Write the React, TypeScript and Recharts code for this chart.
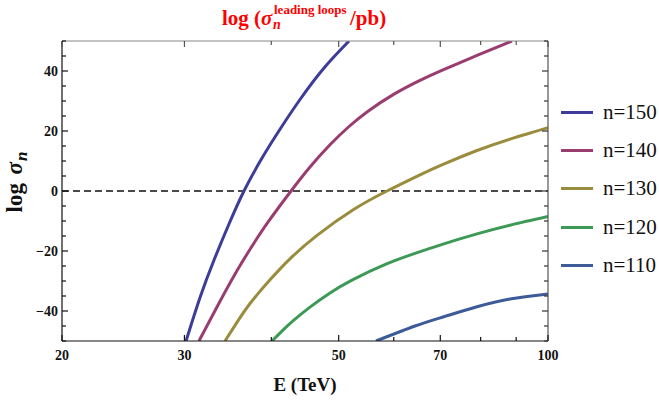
import React from "react";
import { LineChart, Line, XAxis, YAxis, ReferenceLine, Legend } from "recharts";

// tick values
const xTicks = [20, 30, 40, 50, 60, 70, 80, 90, 100];
const xLabelled = [20, 30, 50, 70, 100];
const yTicks = [-50, -45, -40, -35, -30, -25, -20, -15, -10, -5, 0, 5, 10, 15, 20, 25, 30, 35, 40, 45, 50];
const yLabelled = [-40, -20, 0, 20, 40];

// curves: E (TeV) and log sigma_n
const e150 = [30.16, 31.59, 33.09, 34.77, 36.54, 38.79, 41.17, 43.99, 47.63, 51.74];
const s150 = [-50, -35.5, -23, -11, 0, 11, 20.6, 30.5, 41, 50];

const e140 = [31.48, 33.53, 35.7, 37.52, 39.56, 42.7, 45.47, 48.58, 51.74, 55.1, 60.05, 65.45, 70.63, 79.05, 88.76];
const s140 = [-50, -38, -26.6, -18.4, -10.4, 0, 8, 15.4, 21.5, 26.6, 32.3, 36.9, 40.4, 45.2, 50];

const e130 = [34.31, 35.7, 37.28, 39.83, 42.55, 46.54, 52.6, 58.67, 65.45, 70.63, 79.05, 88.18, 100];
const s130 = [-50, -43.8, -37.5, -29.6, -22.6, -14.8, -6.1, 0, 5.4, 8.9, 13.5, 17.3, 21.1];

const e120 = [40.09, 41.86, 43.27, 45.47, 48.58, 52.25, 58.48, 64.37, 70.63, 79.05, 88.18, 100];
const s120 = [-50, -45.7, -42.7, -38.7, -34, -29.7, -24.4, -20.8, -17.7, -14.3, -11.4, -8.5];

const e110 = [56.58, 64.37, 70.63, 79.05, 88.18, 100];
const s110 = [-50, -45, -42, -38.6, -36, -34.3];

const names = ["n=150", "n=140", "n=130", "n=120", "n=110"];
const colors = ["#3d3d99", "#993d71", "#998c3d", "#3d9956", "#3d5a99"];
const energies = [e150, e140, e130, e120, e110];
const sigmas = [s150, s140, s130, s120, s110];

const series = names.map((name, i) => ({
  name,
  color: colors[i],
  data: energies[i].map((E, j) => ({ E, v: sigmas[i][j] })),
}));

const FONT = '"Liberation Serif", "Times New Roman", serif';
const AXIS = "#111";

const fmt = (v: number) => (v < 0 ? "\u2212" + Math.abs(v) : String(v));

// tick components: inward tick mark (major longer) plus label on left/bottom
const BottomTick = (props: any) => {
  const { x, y, payload } = props;
  const major = xLabelled.includes(payload.value);
  const y0 = y - 8;
  return (
    <g>
      <line x1={x} x2={x} y1={y0} y2={y0 - (major ? 6 : 4)} stroke={AXIS} strokeWidth={1.2} />
      {major && (
        <text x={x} y={y0 + 19} textAnchor="middle" fontFamily={FONT} fontWeight="bold" fontSize={14} fill="#111">
          {payload.value}
        </text>
      )}
    </g>
  );
};

const TopTick = (props: any) => {
  const { x, y, payload } = props;
  const major = xLabelled.includes(payload.value);
  return <line x1={x} x2={x} y1={y} y2={y + (major ? 6 : 4)} stroke="#555" strokeWidth={1.2} />;
};

const LeftTick = (props: any) => {
  const { x, y, payload } = props;
  const major = yLabelled.includes(payload.value);
  const x0 = x + 4;
  return (
    <g>
      <line x1={x0} x2={x0 + (major ? 6 : 4)} y1={y} y2={y} stroke={AXIS} strokeWidth={1.2} />
      {major && (
        <text x={x} y={y + 5} textAnchor="end" fontFamily={FONT} fontWeight="bold" fontSize={14} fill="#111">
          {fmt(payload.value)}
        </text>
      )}
    </g>
  );
};

const RightTick = (props: any) => {
  const { x, y, payload } = props;
  const major = yLabelled.includes(payload.value);
  return <line x1={x} x2={x - (major ? 6 : 4)} y1={y} y2={y} stroke="#333" strokeWidth={1.2} />;
};

const LegendBox = () => (
  <div style={{ fontFamily: FONT, fontSize: 21, color: "#111" }}>
    {series.map((s) => (
      <div key={s.name} style={{ height: 38.4, display: "flex", alignItems: "center" }}>
        <div style={{ width: 32, height: 3, background: s.color, marginRight: 10 }} />
        <span>{s.name}</span>
      </div>
    ))}
  </div>
);

export default function App() {
  return (
    <div style={{ position: "absolute", left: 0, top: 0, width: 659, height: 402 }}>
      <LineChart width={659} height={402} margin={{ top: 40, right: 110, bottom: 31, left: 0 }}>
        <XAxis
          dataKey="E"
          type="number"
          scale="log"
          domain={[20, 100]}
          ticks={xTicks}
          interval={0}
          allowDataOverflow
          height={30}
          tickSize={0}
          tickMargin={8}
          tickLine={false}
          tick={<BottomTick />}
          axisLine={{ stroke: AXIS, strokeWidth: 1.2 }}
        />
        <XAxis
          xAxisId="top"
          orientation="top"
          dataKey="E"
          type="number"
          scale="log"
          domain={[20, 100]}
          ticks={xTicks}
          interval={0}
          allowDataOverflow
          height={1}
          tickSize={0}
          tickMargin={0}
          tickLine={false}
          tick={<TopTick />}
          axisLine={{ stroke: "#888", strokeWidth: 1.2 }}
        />
        <YAxis
          type="number"
          domain={[-50, 50]}
          ticks={yTicks}
          interval={0}
          allowDataOverflow
          width={62}
          tickSize={0}
          tickMargin={4}
          tickLine={false}
          tick={<LeftTick />}
          axisLine={{ stroke: AXIS, strokeWidth: 1.2 }}
        />
        <YAxis
          yAxisId="right"
          orientation="right"
          type="number"
          domain={[-50, 50]}
          ticks={yTicks}
          interval={0}
          allowDataOverflow
          width={1}
          tickSize={0}
          tickMargin={0}
          tickLine={false}
          tick={<RightTick />}
          axisLine={{ stroke: "#555", strokeWidth: 1.2 }}
        />
        <ReferenceLine y={0} stroke="#111" strokeWidth={1.3} strokeDasharray="7 4" />
        {series.map((s) => (
          <Line
            key={s.name}
            data={s.data}
            dataKey="v"
            name={s.name}
            type="natural"
            stroke={s.color}
            strokeWidth={3}
            dot={false}
            activeDot={false}
            isAnimationActive={false}
          />
        ))}
        <Legend
          layout="vertical"
          align="center"
          verticalAlign="middle"
          content={<LegendBox />}
          wrapperStyle={{ left: 561, top: 93, width: 98 }}
        />
      </LineChart>
      <svg width={659} height={402} style={{ position: "absolute", left: 0, top: 0, pointerEvents: "none" }}>
        <g fontFamily={FONT} fontWeight="bold" fill="#ff0000">
          <text x={222} y={25} fontSize={21}>
            log (<tspan fontStyle="italic">σ</tspan>
          </text>
          <text x={273} y={29} fontSize={14} fontStyle="italic">n</text>
          <text x={274} y={14} fontSize={13}>leading loops</text>
          <text x={350} y={25} fontSize={21}>/pb)</text>
        </g>
        <g fontFamily={FONT} fontWeight="bold" fill="#111">
          <text x={305} y={391} fontSize={19} textAnchor="middle">E (TeV)</text>
          <text transform="translate(22,182) rotate(-90)" fontSize={23} textAnchor="middle">
            log <tspan fontStyle="italic" dx={3}>σ</tspan>
            <tspan fontStyle="italic" fontSize={17} dy={5} dx={1}>n</tspan>
          </text>
        </g>
      </svg>
    </div>
  );
}
